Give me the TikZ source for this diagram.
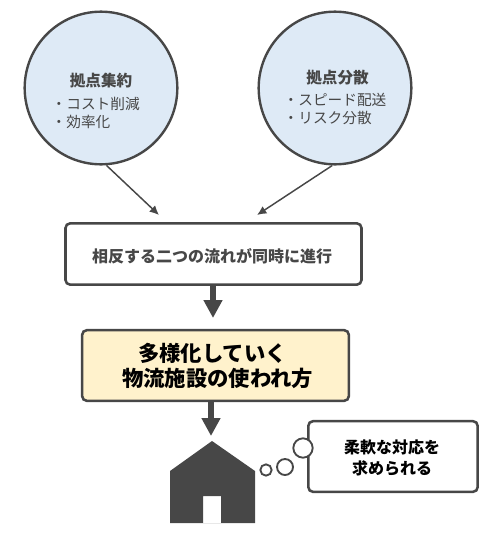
\documentclass[tikz,border=0pt]{standalone}
\usepackage{fontspec}
\setmainfont{Noto Sans CJK JP}
\usetikzlibrary{arrows.meta}
\definecolor{ink}{HTML}{474747}
\definecolor{blueFill}{HTML}{DEEAF6}
\definecolor{creamFill}{HTML}{FFF2CC}
\newcommand{\fs}[2]{\fontsize{#1}{#2}\selectfont}
\tikzset{
  x=0.75pt,y=-0.75pt,
  hub/.style={circle,draw=ink,line width=1.8pt,fill=blueFill,minimum size=114.5pt,inner sep=0pt},
  pane/.style={draw=ink,line width=1.9pt,rounded corners=3.5pt,inner sep=0pt,fill=white},
  thin arrow/.style={draw=ink,line width=1.1pt,-{Latex[length=7pt,width=6.5pt]}},
  thick arrow/.style={draw=ink,line width=4.8pt,-{Triangle[length=13.5pt,width=13.5pt]}},
  puff/.style={circle,draw=ink,line width=1.4pt,fill=white,inner sep=0pt},
  headtext/.style={text=ink,font=\fs{11.7}{14}\bfseries},
  listtext/.style={text=ink,font=\fs{11}{13},align=left},
}
\begin{document}
\begin{tikzpicture}
\useasboundingbox (0,0) rectangle (493,536);
\node[hub] (hubA) at (101,88) {};
\node[hub] (hubB) at (335,88) {};
\node[headtext] (hubAhead) at (101,81) {拠点集約};
\node[headtext] (hubBhead) at (337.5,78) {拠点分散};
\node[listtext,anchor=west] (hubAlist) at (47,113) {・コスト削減\\・効率化};
\node[listtext,anchor=west] (hubBlist) at (279,109) {・スピード配送\\・リスク分散};
\node[pane,minimum width=222pt,minimum height=46pt] (flow) at (213.5,254) {};
\node[text=ink,font=\fs{12}{14}\bfseries] (flowtext) at (212,256) {相反する二つの流れが同時に進行};
\node[pane,fill=creamFill,minimum width=200pt,minimum height=53pt] (usage) at (215.5,365.5) {};
\node[text=black,font=\fs{16}{19}\bfseries,align=center] (usagetext) at (217.5,366) {多様化していく\hbox to 7.5pt{}\\物流施設の使われ方};
\node[pane,minimum width=127pt,minimum height=53pt] (need) at (393,456.5) {};
\node[text=black,font=\fs{12}{15.75}\bfseries,align=center] (needtext) at (392,458) {柔軟な対応を\\求められる};
\coordinate (hitA) at (159,215);
\coordinate (hitB) at (257,215);
\draw[thin arrow] (hubA.-86) -- (hitA);
\draw[thin arrow] (hubB.-92) -- (hitB);
\coordinate (roof) at (212,441);
\coordinate (tipA) at (213,318);
\coordinate (tailB) at (211,401);
\coordinate (tipB) at (211,436);
\draw[thick arrow] (flow.south -| tipA) -- (tipA);
\draw[thick arrow] (tailB) -- (tipB);
\fill[ink,even odd rule] (roof) -- (255,471) -- (255,523) -- (170,523) -- (170,471) -- cycle
  (203,496) rectangle (221,523);
\node[puff,minimum size=8.5pt] (p1) at (266,470) {};
\node[puff,minimum size=12pt] (p2) at (285,467) {};
\node[puff,minimum size=14.5pt] (p3) at (303,448) {};
\end{tikzpicture}
\end{document}
